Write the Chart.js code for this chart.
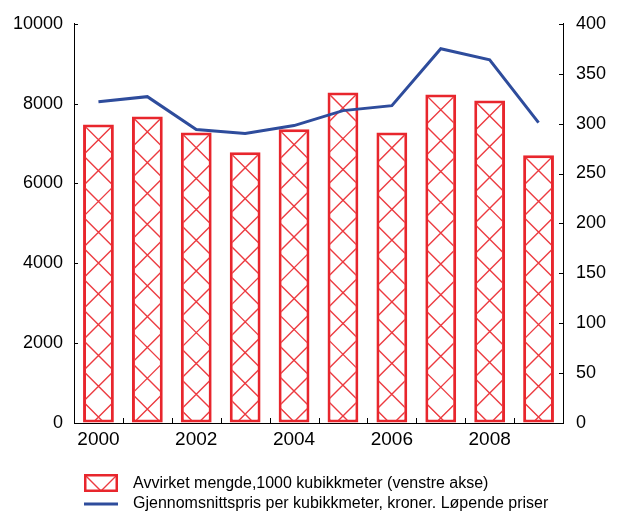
<!DOCTYPE html>
<html>
<head>
<meta charset="utf-8">
<script src="https://cdn.jsdelivr.net/npm/chart.js@4"></script>
<style>
    body { margin: 0; background: #fff; }
    #wrap { position: relative; width: 617px; height: 514px; }
    #legend { position: absolute; left: 84px; top: 473px; font: 16px "Liberation Sans", Arial, sans-serif; color: #000; }
    .row { display: flex; align-items: center; height: 20px; }
    .row canvas { margin-right: 15px; }
</style>
</head>
<body>
<div id="wrap">
    <canvas id="chart" width="617" height="514" style="width:617px;height:514px"></canvas>
    <div id="legend">
        <div class="row"><canvas id="sw1" width="34" height="18"></canvas><span>Avvirket mengde,1000 kubikkmeter (venstre akse)</span></div>
        <div class="row"><canvas id="sw2" width="34" height="18"></canvas><span>Gjennomsnittspris per kubikkmeter, kroner. Løpende priser</span></div>
    </div>
</div>
<script>
const years = ['2000', '2001', '2002', '2003', '2004', '2005', '2006', '2007', '2008', '2009'];
// 1000 kubikkmeter (left axis)
const volume = [7480, 7680, 7280, 6780, 7360, 8280, 7280, 8230, 8080, 6710];
// kroner per kubikkmeter (right axis)
const price = [322, 327, 294, 290, 298, 313, 318, 375, 364, 301];

const RED = '#e8262d';
const HATCH = '#ec3b40';
const BLUE = '#2e4c9c';
const FONT = '"Liberation Sans", Arial, sans-serif';

// diagonal cross hatch, anchored at the top corners of the box
function drawHatch(ctx, left, top, right, bottom, inset) {
    const w = right - left;
    const H = bottom - top + w;
    ctx.save();
    ctx.beginPath();
    ctx.rect(left + inset, top + inset, w - 2 * inset, bottom - top - 2 * inset);
    ctx.clip();
    ctx.strokeStyle = HATCH;
    ctx.lineWidth = 1.4;
    ctx.beginPath();
    const n = Math.ceil(H / w) + 1;
    for (let k = -n; k <= 1; k++) {
        const x0 = left + k * w;
        ctx.moveTo(x0, top);
        ctx.lineTo(x0 + H, top + H);
    }
    for (let k = 0; k <= n; k++) {
        const x0 = right + k * w;
        ctx.moveTo(x0, top);
        ctx.lineTo(x0 - H, top + H);
    }
    ctx.stroke();
    ctx.restore();
}

const hatchPlugin = {
    id: 'hatch',
    afterDatasetDraw(chart, args) {
        if (args.index !== 0) return;
        const ctx = chart.ctx;
        chart.getDatasetMeta(0).data.forEach(bar => {
            const p = bar.getProps(['x', 'y', 'base', 'width'], true);
            drawHatch(ctx, p.x - p.width / 2, p.y, p.x + p.width / 2, p.base, 2.5);
        });
    }
};

// small tick marks pointing into the plot
const innerTicks = {
    id: 'innerTicks',
    afterDatasetsDraw(chart) {
        const ctx = chart.ctx;
        const area = chart.chartArea;
        const x = chart.scales.x, yl = chart.scales.y, yr = chart.scales.y1;
        ctx.save();
        ctx.strokeStyle = '#000';
        ctx.lineWidth = 1;
        ctx.beginPath();
        yl.ticks.forEach(t => {
            const py = Math.round(yl.getPixelForValue(t.value)) + 0.5;
            ctx.moveTo(area.left, py);
            ctx.lineTo(area.left + 4, py);
        });
        yr.ticks.forEach(t => {
            const py = Math.round(yr.getPixelForValue(t.value)) + 0.5;
            ctx.moveTo(area.right, py);
            ctx.lineTo(area.right - 4, py);
        });
        for (let i = 0; i < years.length - 1; i++) {
            const px = Math.round((x.getPixelForValue(i) + x.getPixelForValue(i + 1)) / 2) + 0.5;
            ctx.moveTo(px, area.bottom);
            ctx.lineTo(px, area.bottom - 5);
        }
        ctx.stroke();
        ctx.restore();
    }
};

const axisLine = { display: true, color: '#000', width: 1 };
const noGrid = { display: true, drawOnChartArea: false, drawTicks: false };

new Chart(document.getElementById('chart'), {
    data: {
        labels: years,
        datasets: [{
            type: 'bar',
            label: 'Avvirket mengde,1000 kubikkmeter (venstre akse)',
            data: volume,
            yAxisID: 'y',
            backgroundColor: '#fff',
            borderColor: RED,
            borderWidth: 3,
            borderSkipped: false,
            categoryPercentage: 1,
            barPercentage: 0.63,
            order: 2
        }, {
            type: 'line',
            label: 'Gjennomsnittspris per kubikkmeter, kroner. Løpende priser',
            data: price,
            yAxisID: 'y1',
            borderColor: BLUE,
            borderWidth: 3,
            pointRadius: 0,
            tension: 0,
            order: 1
        }]
    },
    options: {
        responsive: false,
        animation: false,
        devicePixelRatio: 1,
        layout: { padding: { top: 23 }, autoPadding: false },
        plugins: { legend: { display: false }, tooltip: { enabled: false } },
        scales: {
            x: {
                grid: noGrid,
                border: axisLine,
                ticks: {
                    autoSkip: false,
                    maxRotation: 0,
                    padding: 5,
                    color: '#000',
                    font: { family: FONT, size: 19 },
                    callback: (v, i) => i % 2 === 0 ? years[i] : ''
                },
                afterFit: s => { s.height = 91; }
            },
            y: {
                position: 'left',
                min: 0, max: 10000,
                grid: noGrid,
                border: axisLine,
                ticks: { stepSize: 2000, padding: 11, color: '#000', font: { family: FONT, size: 18 }, callback: v => String(v) },
                afterFit: s => { s.width = 74; }
            },
            y1: {
                position: 'right',
                min: 0, max: 400,
                grid: noGrid,
                border: axisLine,
                ticks: { stepSize: 50, padding: 13, color: '#000', font: { family: FONT, size: 18 }, callback: v => String(v) },
                afterFit: s => { s.width = 54; }
            }
        }
    },
    plugins: [hatchPlugin, innerTicks]
});

// legend swatches
const s1 = document.getElementById('sw1').getContext('2d');
s1.fillStyle = '#fff';
s1.fillRect(0, 0, 34, 18);
drawHatch(s1, 1, 1, 33, 17, 1);
s1.strokeStyle = RED;
s1.lineWidth = 2.5;
s1.strokeRect(1.25, 1.25, 31.5, 15.5);

const s2 = document.getElementById('sw2').getContext('2d');
s2.strokeStyle = BLUE;
s2.lineWidth = 3;
s2.beginPath();
s2.moveTo(0, 10);
s2.lineTo(34, 10);
s2.stroke();
</script>
</body>
</html>
